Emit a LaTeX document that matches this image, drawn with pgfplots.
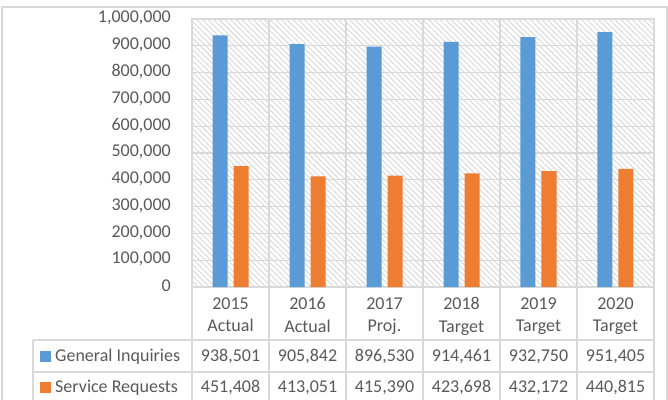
\documentclass[border=0pt]{standalone}
\usepackage{fontspec}
\setmainfont{Carlito}
\usepackage{pgfplots}
\pgfplotsset{compat=1.18}
\usetikzlibrary{patterns.meta}
\definecolor{gibar}{HTML}{5B9BD5}
\definecolor{srbar}{HTML}{ED7D31}
\definecolor{gridc}{HTML}{D9D9D9}
\definecolor{hatch}{HTML}{D6D6D6}
\definecolor{txt}{HTML}{595959}

\begin{document}
\fontsize{18bp}{22.5bp}\selectfont
\begin{tikzpicture}
\path[use as bounding box] (0,0) rectangle (668bp,-400bp);
\draw[gridc,line width=1.3bp] (2bp,-7bp) rectangle (667bp,-420bp);
\begin{axis}[
  at={(192bp,-287bp)}, anchor=south west,
  scale only axis, width=462bp, height=268bp,
  xmin=-0.5, xmax=5.5, ymin=0, ymax=1000000,
  ybar=6bp, bar width=15bp,
  axis background/.style={pattern={Lines[angle=-45,distance=4bp,line width=0.9bp]},pattern color=hatch},
  axis line style={gridc,line width=1.3bp},
  ymajorgrids, xminorgrids,
  major grid style={gridc,line width=1.3bp},
  minor grid style={gridc,line width=1.3bp},
  major tick length=0pt, minor tick length=0pt,
  ytick={0,100000,...,1000000}, scaled y ticks=false,
  /pgf/number format/fixed,
  /pgf/number format/1000 sep={,},
  /pgf/number format/assume math mode=true,
  yticklabel style={anchor=east,xshift=-15bp,yshift=1bp},
  xtick={0,...,5}, minor xtick={0.5,1.5,...,4.5},
  xticklabels={{2015\\Actual},{2016\\Actual},{2017\\Proj.},{2018\\Target},{2019\\Target},{2020\\Target}},
  xticklabel style={align=center,anchor=north,yshift=-4.5bp},
  tick label style={text=txt,font=\fontsize{18bp}{22.5bp}\selectfont},
]
\addplot[fill=gibar,draw=none] coordinates {(0,938501) (1,905842) (2,896530) (3,914461) (4,932750) (5,951405)};
\addplot[fill=srbar,draw=none] coordinates {(0,451408) (1,413051) (2,415390) (3,423698) (4,432172) (5,440815)};
\end{axis}
\begin{scope}[x=1bp,y=-1bp]
\foreach \x in {192,269,346,423,500,577,654} \draw[gridc,line width=1.3bp] (\x,287) -- (\x,420);
\draw[gridc,line width=1.3bp] (33,340) -- (33,420);
\foreach \y in {340,372,404} \draw[gridc,line width=1.3bp] (33,\y) -- (654,\y);
\fill[gibar] (40,351) rectangle (51,362);
\fill[srbar] (40,382) rectangle (51,393);
\node[anchor=west,text=txt,inner sep=0pt] at (55,356.5) {General Inquiries};
\node[anchor=west,text=txt,inner sep=0pt] at (55,387.5) {Service Requests};
\foreach \v [count=\i from 0] in {938{,}501,905{,}842,896{,}530,914{,}461,932{,}750,951{,}405}
  \node[text=txt,inner sep=0pt] at (230.5+77*\i,356.5) {\v};
\foreach \v [count=\i from 0] in {451{,}408,413{,}051,415{,}390,423{,}698,432{,}172,440{,}815}
  \node[text=txt,inner sep=0pt] at (230.5+77*\i,387.5) {\v};
\end{scope}
\end{tikzpicture}
\end{document}
